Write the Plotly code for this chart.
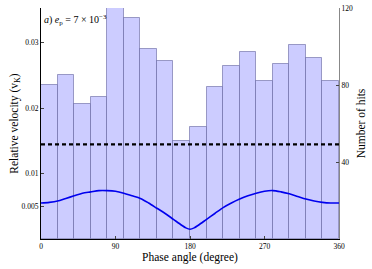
import plotly.graph_objects as go

# Histogram of hits per 20-degree phase bin
bin_centers = [10, 30, 50, 70, 90, 110, 130, 150, 170, 190, 210, 230, 250, 270, 290, 310, 330, 350]
hit_counts = [80, 85, 70, 74, 125, 115, 98.5, 92.5, 51, 58, 79, 90, 97, 82, 91, 101, 94, 82]

# Relative velocity curve (sampled)
phase_deg = [0, 10, 20, 30, 40, 50, 60, 70, 80, 90, 100, 110, 120, 130, 140, 150, 160, 170, 175, 180,
             185, 190, 200, 210, 220, 230, 240, 250, 260, 270, 280, 290, 300, 310, 320, 330, 340, 350, 360]
rel_velocity = [0.0055, 0.0056, 0.0058, 0.0062, 0.0066, 0.0070, 0.0072, 0.0074, 0.0074, 0.0073,
                0.0070, 0.0066, 0.0062, 0.0055, 0.0047, 0.0039, 0.0030, 0.0021, 0.0017, 0.00150,
                0.0017, 0.0021, 0.0030, 0.0039, 0.0048, 0.0055, 0.0061, 0.0066, 0.0070, 0.0073, 0.0074,
                0.0072, 0.0069, 0.0065, 0.0061, 0.0058, 0.0056, 0.0055, 0.0055]

dash_x = [0, 360]
dash_level = [0.01446, 0.01446]

x_ticks = [0, 90, 180, 270, 360]
left_ticks = [0.005, 0.01, 0.02, 0.03]
left_tick_text = ["0.005", "0.01", "0.02", "0.03"]
right_ticks = [40, 80, 120]

FONT = "Liberation Serif"
TICKFONT = dict(size=7.5, family=FONT, color="black")
TITLEFONT = dict(size=11.5, family=FONT, color="black")

fig = go.Figure()
fig.add_trace(go.Bar(
    x=bin_centers, y=hit_counts, width=20, yaxis="y", xaxis="x",
    marker=dict(color="rgb(204,204,255)", line=dict(color="rgba(90,90,150,0.55)", width=1)),
    showlegend=False,
))
fig.add_trace(go.Scatter(
    x=dash_x, y=dash_level, yaxis="y2", mode="lines",
    line=dict(color="black", width=2.2, dash="4px,3px"), showlegend=False,
))
fig.add_trace(go.Scatter(
    x=phase_deg, y=rel_velocity, yaxis="y2", mode="lines",
    line=dict(color="#0000ee", width=1.6, shape="spline", smoothing=0.8), showlegend=False,
))

fig.update_layout(
    template="none",
    width=372, height=269,
    margin=dict(l=41, r=33, t=8, b=30, autoexpand=False),
    paper_bgcolor="white", plot_bgcolor="white",
    font=dict(family=FONT, size=8, color="black"),
    bargap=0,
    xaxis=dict(
        range=[0, 360], tickvals=x_ticks, ticks="inside", ticklen=3, tickcolor="#444",
        showline=True, linecolor="black", linewidth=1.2, showgrid=False, zeroline=False,
        automargin=False,
        title=dict(text="Phase angle (degree)", font=TITLEFONT, standoff=1),
        tickfont=TICKFONT,
    ),
    xaxis2=dict(
        overlaying="x", side="top", range=[0, 360], tickvals=[90, 180, 270], ticks="inside",
        ticklen=3, tickcolor="#444", showticklabels=False, showline=True, linecolor="#888",
        linewidth=1.2, showgrid=False, zeroline=False, automargin=False,
    ),
    yaxis=dict(
        side="right", range=[0, 120], tickvals=right_ticks, ticks="inside", ticklen=3,
        tickcolor="#444", showline=True, linecolor="#888", linewidth=1.2, showgrid=False,
        zeroline=False, tickfont=TICKFONT, automargin=False,
        title=dict(text="Number of hits", font=TITLEFONT, standoff=4),
    ),
    yaxis2=dict(
        overlaying="y", side="left", anchor="x", range=[0, 0.0353], tickvals=left_ticks,
        ticktext=left_tick_text, ticks="inside", ticklen=3, tickcolor="#444",
        showline=True, linecolor="black", linewidth=1.2, showgrid=False, zeroline=False,
        tickfont=TICKFONT, automargin=False,
        title=dict(text="Relative velocity (v<sub>K</sub>)", font=TITLEFONT, standoff=0),
    ),
    annotations=[dict(
        x=0.005, y=0.985, xref="paper", yref="paper", xanchor="left", yanchor="top",
        text="<i>a</i>) <i>e</i><sub>p</sub> = 7 × 10<sup>−3</sup>", showarrow=False,
        font=dict(size=10, family=FONT, color="black"),
    )],
)

fig.write_html("out.html", config={"displayModeBar": False},
               post_script="document.body.style.margin='0';")
